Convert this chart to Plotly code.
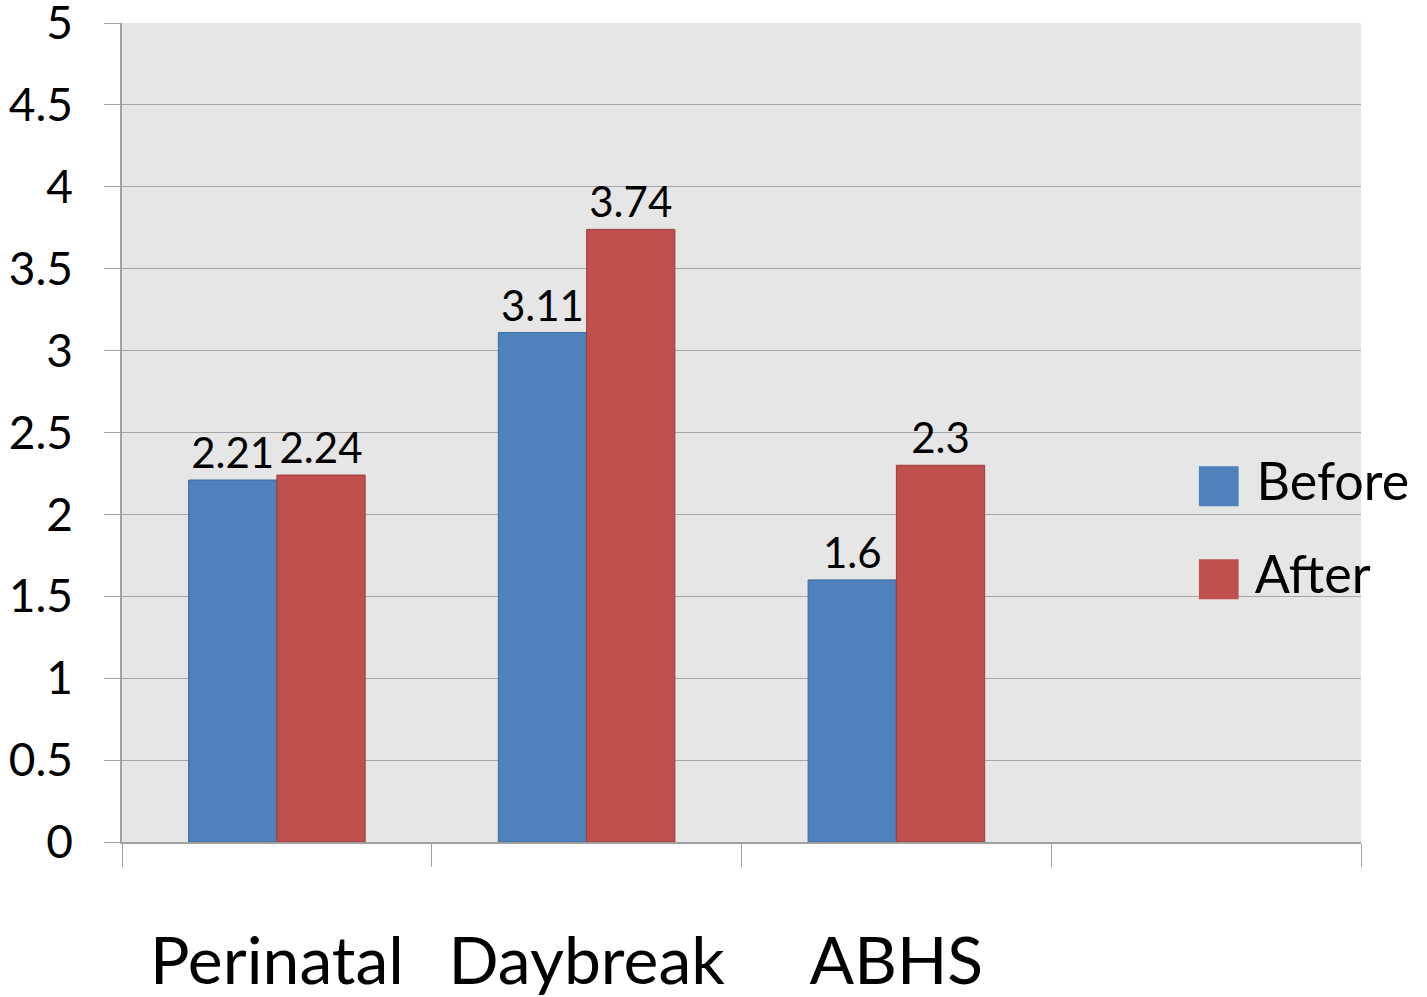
import plotly.graph_objects as go

categories = ["Perinatal", "Daybreak", "ABHS"]
all_slots = ["Perinatal", "Daybreak", "ABHS", " "]
before = [2.21, 3.11, 1.6]
after = [2.24, 3.74, 2.3]
series_names = ["Before", "After"]
colors = ["#4F81BD", "#C0504D"]
outline = ["#3C6A9E", "#9E3B38"]
ytick_vals = [0, 0.5, 1, 1.5, 2, 2.5, 3, 3.5, 4, 4.5, 5]
ytick_text = ["0", "0.5", "1", "1.5", "2", "2.5", "3", "3.5", "4", "4.5", "5"]

FONT = "Lato"

fig = go.Figure()
for name, vals, c, oc in zip(series_names, [before, after], colors, outline):
    fig.add_trace(go.Bar(
        x=categories, y=vals, name=name, showlegend=False,
        marker=dict(color=c, line=dict(color=oc, width=1)),
        text=[f"{v:g}" for v in vals], textposition="outside",
        textfont=dict(size=42, color="black", family=FONT),
        cliponaxis=False,
    ))

# legend entries with large square swatches
for i, (name, c) in enumerate(zip(series_names, colors)):
    fig.add_trace(go.Scatter(
        x=[None], y=[None], mode="markers",
        marker=dict(size=1, color="rgba(0,0,0,0)"),
        name=f'<span style="color:{c};font-family:DejaVu Sans">■</span> {name}',
        legendgroup=f"g{i}", showlegend=True,
    ))

fig.update_layout(
    width=1427, height=997,
    margin=dict(l=122, r=66, t=23, b=155, autoexpand=False),
    paper_bgcolor="white", plot_bgcolor="#E6E6E6",
    barmode="group", bargap=0.43, bargroupgap=0,
    font=dict(family=FONT, color="black"),
    legend=dict(
        x=0.833, y=0.385, xanchor="left", yanchor="middle",
        font=dict(size=52, family=FONT), bgcolor="rgba(0,0,0,0)",
        tracegroupgap=22, itemwidth=30,
    ),
)
fig.update_xaxes(
    type="category", categoryorder="array", categoryarray=all_slots,
    range=[-0.5, 3.5], tickson="boundaries", ticks="outside", ticklen=23,
    tickcolor="#A0A0A0", showline=True, linecolor="#A0A0A0", linewidth=1.5,
    showgrid=False, tickfont=dict(size=66, family=FONT), ticklabelstandoff=61,
    tickmode="array", tickvals=all_slots, automargin=False,
    ticklabeloverflow="allow",
)
fig.update_yaxes(
    range=[0, 5], tickvals=ytick_vals, ticktext=ytick_text,
    ticks="outside", ticklen=16, tickcolor="#A0A0A0",
    showgrid=True, gridcolor="#A6A6A6", gridwidth=1,
    showline=True, linecolor="#A0A0A0", linewidth=1.5,
    tickfont=dict(size=46, family=FONT), ticklabelstandoff=22,
    zeroline=False, automargin=False, ticklabeloverflow="allow",
)

fig.write_html(
    "out.html",
    config={"displayModeBar": False},
    post_script="document.body.style.margin='0px';document.body.style.padding='0px';",
)
